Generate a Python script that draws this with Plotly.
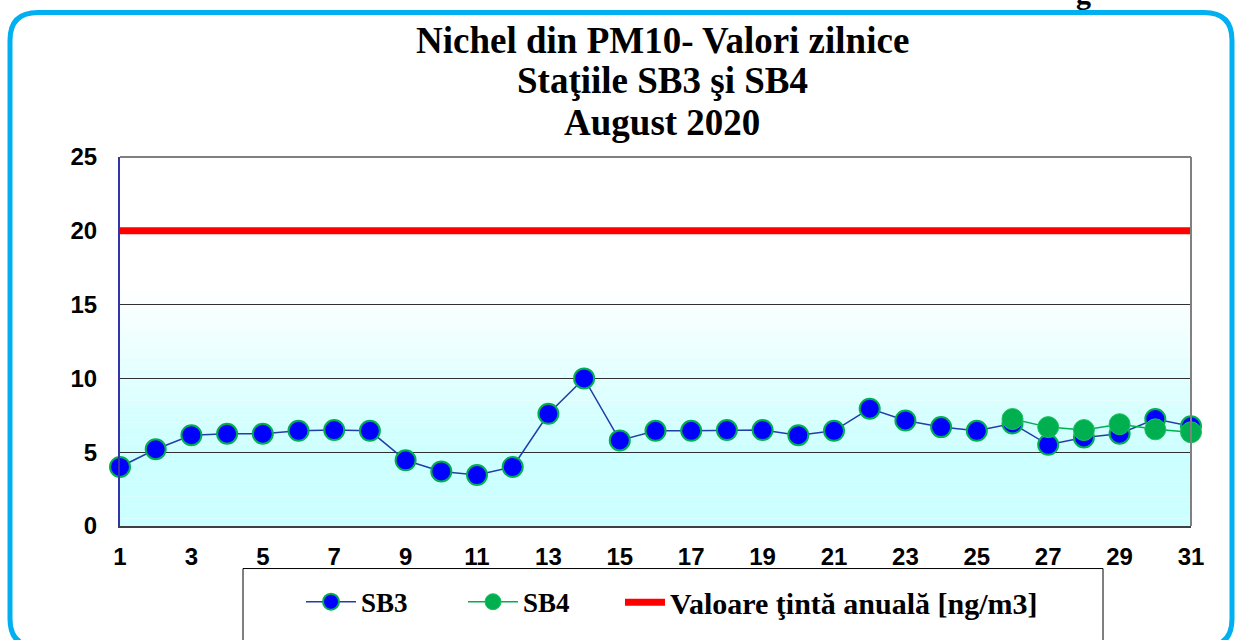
import plotly.graph_objects as go

# ---------------------------------------------------------------
#  Nichel din PM10 - valori zilnice, statiile SB3 si SB4, aug 2020
# ---------------------------------------------------------------

days = list(range(1, 32))

sb3 = [4.0, 5.2, 6.15, 6.25, 6.25, 6.45, 6.5, 6.45, 4.45, 3.7,
       3.45, 4.0, 7.6, 10.0, 5.8, 6.45, 6.45, 6.5, 6.5, 6.15,
       6.45, 7.95, 7.15, 6.7, 6.45, 6.95, 5.5, 6.0, 6.25, 7.25,
       6.75]

sb4 = [None] * 25 + [7.25, 6.7, 6.5, 6.9, 6.55, 6.35]

target = [20] * len(days)   # valoare tinta anuala

x_ticks = days[::2]
y_ticks = [0, 5, 10, 15, 20, 25]

title_lines = ["Nichel din PM10- Valori zilnice", "Staţiile SB3 şi SB4", "August 2020"]

W, H = 1235, 640
ML, MR, MT, MB = 120, 44, 157, 110
PW, PH = W - ML - MR, H - MT - MB


def px(x):
    # pixel column -> paper x
    return (x - ML) / PW


def py(y):
    # pixel row -> paper y
    return (H - MB - y) / PH


fig = go.Figure()

fig.add_trace(go.Scatter(
    x=days, y=sb3, name="SB3", mode="lines+markers",
    line=dict(color="#1f3fa8", width=1.5),
    marker=dict(color="#0000ff", size=20, line=dict(color="#00b050", width=2)),
    cliponaxis=False, legend="legend"))

fig.add_trace(go.Scatter(
    x=days, y=sb4, name="SB4", mode="lines+markers",
    line=dict(color="#00b050", width=1.5),
    marker=dict(color="#00b050", size=21, line=dict(color="#20c060", width=1)),
    cliponaxis=False, legend="legend"))

fig.add_trace(go.Scatter(
    x=days, y=target, name="Valoare ţintă anuală [ng/m3]", mode="lines",
    line=dict(color="#ff0000", width=7), legend="legend2"))

shapes = []

# gradient background: white at the top, pale cyan at the bottom
n = 50
for i in range(n):
    y0 = 25 * i / n
    y1 = 25 * (i + 1) / n
    ym = (y0 + y1) / 2
    t = min(max((ym - 5) / 11, 0), 1)   # 0 -> cyan, 1 -> white
    r = int(204 + (255 - 204) * t)
    shapes.append(dict(type="rect", xref="x domain", yref="y", layer="below",
                       x0=0, x1=1, y0=y0, y1=y1, line=dict(width=0),
                       fillcolor=f"rgb({r},255,255)"))

# plot frame top / right in gray
shapes.append(dict(type="line", xref="x domain", yref="y domain", x0=0, x1=1, y0=1, y1=1,
                   line=dict(color="#808080", width=2)))
shapes.append(dict(type="line", xref="x domain", yref="y domain", x0=1, x1=1, y0=0, y1=1,
                   line=dict(color="#808080", width=2)))

# legend box
shapes.append(dict(type="rect", xref="paper", yref="paper",
                   x0=px(243), x1=px(1103), y0=py(573), y1=py(670),
                   line=dict(color="black", width=1), fillcolor="rgba(0,0,0,0)"))

# rounded cyan frame round the whole chart
L, R, T, B, rad = 10, 1232, 11, 652, 28
path = (f"M {px(L)},{py(T + rad)} "
        f"Q {px(L)},{py(T)} {px(L + rad)},{py(T)} "
        f"L {px(R - rad)},{py(T)} "
        f"Q {px(R)},{py(T)} {px(R)},{py(T + rad)} "
        f"L {px(R)},{py(B - rad)} "
        f"Q {px(R)},{py(B)} {px(R - rad)},{py(B)} "
        f"L {px(L + rad)},{py(B)} "
        f"Q {px(L)},{py(B)} {px(L)},{py(B - rad)} Z")
shapes.append(dict(type="path", xref="paper", yref="paper", path=path,
                   line=dict(color="#00b0f0", width=5)))

fig.update_layout(shapes=shapes)

legend_font = dict(family="Liberation Serif", size=27, color="black", weight="bold")

fig.update_layout(
    width=W, height=H,
    margin=dict(l=ML, r=MR, t=MT, b=MB),
    paper_bgcolor="white", plot_bgcolor="white",
    showlegend=True,
    legend=dict(orientation="h", x=px(301), xanchor="left", y=py(607), yanchor="middle",
                bgcolor="rgba(0,0,0,0)", borderwidth=0, font=legend_font,
                entrywidth=97, entrywidthmode="pixels", itemwidth=50, traceorder="normal"),
    legend2=dict(orientation="h", x=px(620), xanchor="left", y=py(607), yanchor="middle",
                 bgcolor="rgba(0,0,0,0)", borderwidth=0, itemwidth=40,
                 font=dict(family="Liberation Serif", size=30, color="black", weight="bold")),
)

# title, one annotation per line
for txt, yy in zip(title_lines, [39, 80, 122]):
    fig.add_annotation(text=txt, xref="paper", yref="paper", x=px(662), y=py(yy),
                       xanchor="center", yanchor="middle", showarrow=False,
                       font=dict(family="Liberation Serif", size=37, color="black", weight="bold"))

fig.update_xaxes(range=[1, 31], tickvals=x_ticks, showgrid=False, zeroline=False,
                 showline=True, linecolor="#404040", linewidth=2, ticks="",
                 ticklabelstandoff=8,
                 tickfont=dict(family="Liberation Sans", size=24, color="black", weight="bold"))

fig.update_yaxes(range=[0, 25], tickvals=y_ticks, showgrid=True, gridcolor="#303030",
                 gridwidth=1, zeroline=False, showline=True, linecolor="#3333aa",
                 linewidth=2, ticks="", ticklabelstandoff=16,
                 tickfont=dict(family="Liberation Sans", size=24, color="black", weight="bold"))

# fragment of the text above the frame, cut by the top of the page
fig.add_annotation(text="g", xref="paper", yref="paper", x=px(1083), y=py(10),
                   xanchor="center", yanchor="bottom", showarrow=False,
                   font=dict(family="Liberation Serif", size=30, color="black", weight="bold"))

# page has a default body margin; drop it so the chart sits at the window corner
fig.write_html("out.html", config={"displayModeBar": False},
               post_script="document.body.style.margin='0';")
